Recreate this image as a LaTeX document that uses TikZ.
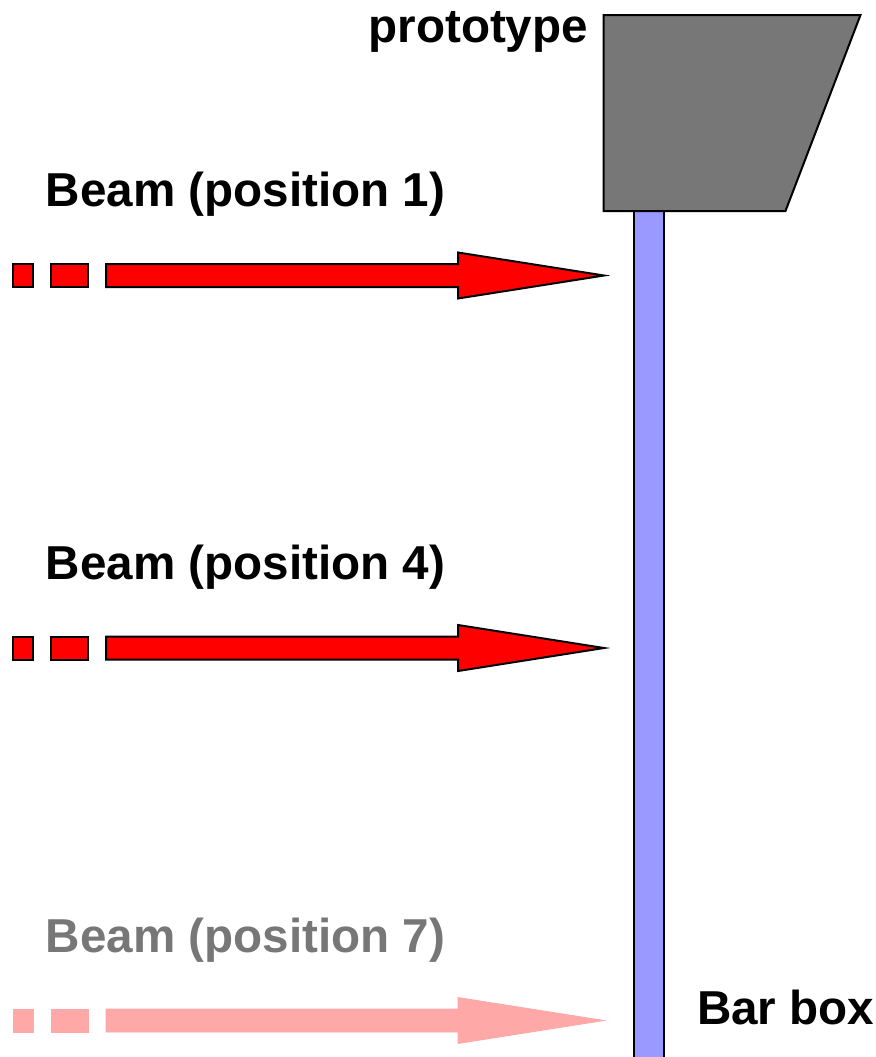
\documentclass[tikz,border=0pt]{standalone}
\usepackage{fontspec}
\setmainfont{Liberation Sans}
\definecolor{protogray}{HTML}{777777}
\definecolor{barblue}{HTML}{9999FF}
\definecolor{beamred}{HTML}{FF0000}
\definecolor{beamfade}{HTML}{FFA8A8}
\tikzset{
  label/.style={font=\fontsize{23.8}{28}\selectfont\bfseries},
  beam/.style={draw=black, fill=beamred, line join=miter, line width=1pt},
  beamfaded/.style={draw=beamfade, fill=beamfade, line join=miter, line width=0.4pt},
}
\begin{document}
\begin{tikzpicture}[y=0.50pt, x=0.5pt, yscale=-1, inner sep=0pt, outer sep=0pt]
\useasboundingbox (0,0) rectangle (875,1057);
% bar box and prototype
\path[draw=black,fill=barblue,line width=1pt]
  (634,211) rectangle (664,1062);
\path[draw=black,fill=protogray,line width=1pt,line join=miter]
  (603.5,15) -- (860.5,15) -- (785.5,211) -- (603.5,211) -- cycle;
\path[fill=black] (588,42) node[label,anchor=base east] (textproto) {prototype};
\path[fill=black] (697,1024) node[label,anchor=base west] (textbar) {Bar box};

% beam position 1
\path[fill=black] (46,206) node[label,anchor=base west] (textbeam1) {Beam (position 1)};
\path[beam] (13,264) rectangle (33,287);
\path[beam] (51,264) rectangle (88,287);
\path[beam] (106,264) -- (458,264) -- (458,252.5) -- (604,275.5)
  -- (458,298.5) -- (458,287) -- (106,287) -- cycle;

% beam position 4
\path[fill=black] (46,579) node[label,anchor=base west] (textbeam4) {Beam (position 4)};
\path[beam] (13,636.5) rectangle (33,659.5);
\path[beam] (51,636.5) rectangle (88,659.5);
\path[beam] (106,636.5) -- (458,636.5) -- (458,625) -- (604,648)
  -- (458,671) -- (458,659.5) -- (106,659.5) -- cycle;

% beam position 7
\path[fill=black] (46,952) node[label,anchor=base west,text=protogray] (textbeam7) {Beam (position 7)};
\path[beamfaded] (13,1009) rectangle (33,1032);
\path[beamfaded] (51,1009) rectangle (88,1032);
\path[beamfaded] (106,1009) -- (458,1009) -- (458,997.5) -- (604,1020.5)
  -- (458,1043.5) -- (458,1032) -- (106,1032) -- cycle;

\end{tikzpicture}
\end{document}
